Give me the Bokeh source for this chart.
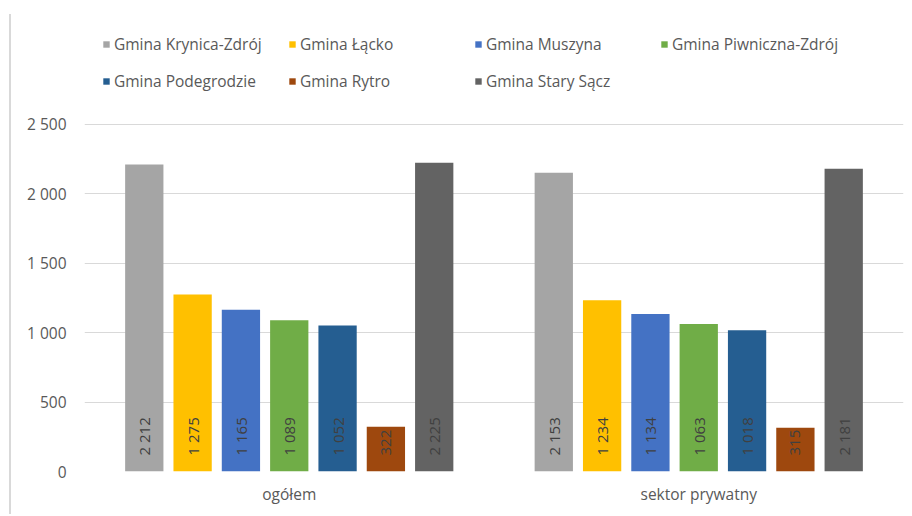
import math
from bokeh.plotting import figure
from bokeh.models import (ColumnDataSource, FactorRange, Range1d, FixedTicker, Legend,
                          LegendItem, InlineStyleSheet)
from bokeh.transform import dodge
from bokeh.core.properties import value
from bokeh.embed import file_html
from bokeh.resources import INLINE

# ---- data ----
categories = ["ogółem", "sektor prywatny"]
series_names = ["Gmina Krynica-Zdrój", "Gmina Łącko", "Gmina Muszyna",
                "Gmina Piwniczna-Zdrój", "Gmina Podegrodzie", "Gmina Rytro",
                "Gmina Stary Sącz"]
krynica = [2212, 2153]
lacko = [1275, 1234]
muszyna = [1165, 1134]
piwniczna = [1089, 1063]
podegrodzie = [1052, 1018]
rytro = [322, 315]
stary_sacz = [2225, 2181]
series_values = [krynica, lacko, muszyna, piwniczna, podegrodzie, rytro, stary_sacz]
y_ticks = [0, 500, 1000, 1500, 2000, 2500]
y_tick_labels = ["0", "500", "1 000", "1 500", "2 000", "2 500"]
colors = ["#A5A5A5", "#FFC000", "#4472C4", "#70AD47", "#255E91", "#9E480E", "#636363"]

FONT = "Open Sans"
TXT = "#595959"
FS = "15.5px"

# frame extends above the 2 500 line so that the legend sits inside it
p = figure(x_range=FactorRange(factors=categories, range_padding=0),
           y_range=Range1d(0, 3292.5),
           width=905, height=514, output_backend="svg", toolbar_location=None,
           min_border_left=84, min_border_right=2, min_border_top=14, min_border_bottom=43)
p.stylesheets = [InlineStyleSheet(css=":host { background: linear-gradient(#d9d9d9, #d9d9d9) 9px 14px / 2px 100% no-repeat, white; }")]
p.border_fill_alpha = 0
p.background_fill_color = None

p.outline_line_color = None
p.xgrid.grid_line_color = None
p.ygrid.grid_line_color = "#d9d9d9"
p.ygrid.grid_line_width = 1

p.yaxis.ticker = FixedTicker(ticks=y_ticks)
p.yaxis.major_label_overrides = {t: l for t, l in zip(y_ticks, y_tick_labels)}
for ax in (p.xaxis, p.yaxis):
    ax.axis_line_color = None
    ax.major_tick_line_color = None
    ax.minor_tick_line_color = None
    ax.major_tick_out = 0
    ax.major_tick_in = 0
    ax.minor_tick_out = 0
    ax.major_label_text_font = FONT
    ax.major_label_text_font_size = FS
    ax.major_label_text_color = TXT
p.yaxis.major_label_standoff = 18
p.xaxis.major_label_standoff = 11

pitch = 0.118
bar_w = 0.0935
items = []
for i, (name, vals, col) in enumerate(zip(series_names, series_values, colors)):
    src = ColumnDataSource(dict(cat=categories, val=vals,
                                lbl=[f"{v:,}".replace(",", " ") for v in vals]))
    off = (i - 3) * pitch
    r = p.vbar(x=dodge("cat", off, range=p.x_range), top="val", width=bar_w,
               source=src, fill_color=col, line_color=None)
    p.text(x=dodge("cat", off, range=p.x_range), y=0, text="lbl", source=src,
           angle=math.pi / 2, text_align="left", text_baseline="middle",
           y_offset=-16, text_font=value(FONT), text_font_size="15px",
           text_color="#404040")
    items.append(LegendItem(label=name, renderers=[r]))

# legend fills column by column: reorder so that it reads row by row (4 per row)
ncols = 4
nrows = math.ceil(len(items) / ncols)
ordered = [items[r * ncols + c] for c in range(ncols) for r in range(nrows)
           if r * ncols + c < len(items)]

legend = Legend(items=ordered, ncols=ncols, location=(18, 375),
                glyph_width=8, glyph_height=8, label_standoff=4,
                label_width=168, label_height=31, spacing=6, padding=0, margin=0,
                border_line_color=None, background_fill_alpha=0,
                label_text_font=FONT, label_text_font_size=FS,
                label_text_color=TXT)
p.add_layout(legend, "center")

open("out.html", "w").write(file_html(p, INLINE))
